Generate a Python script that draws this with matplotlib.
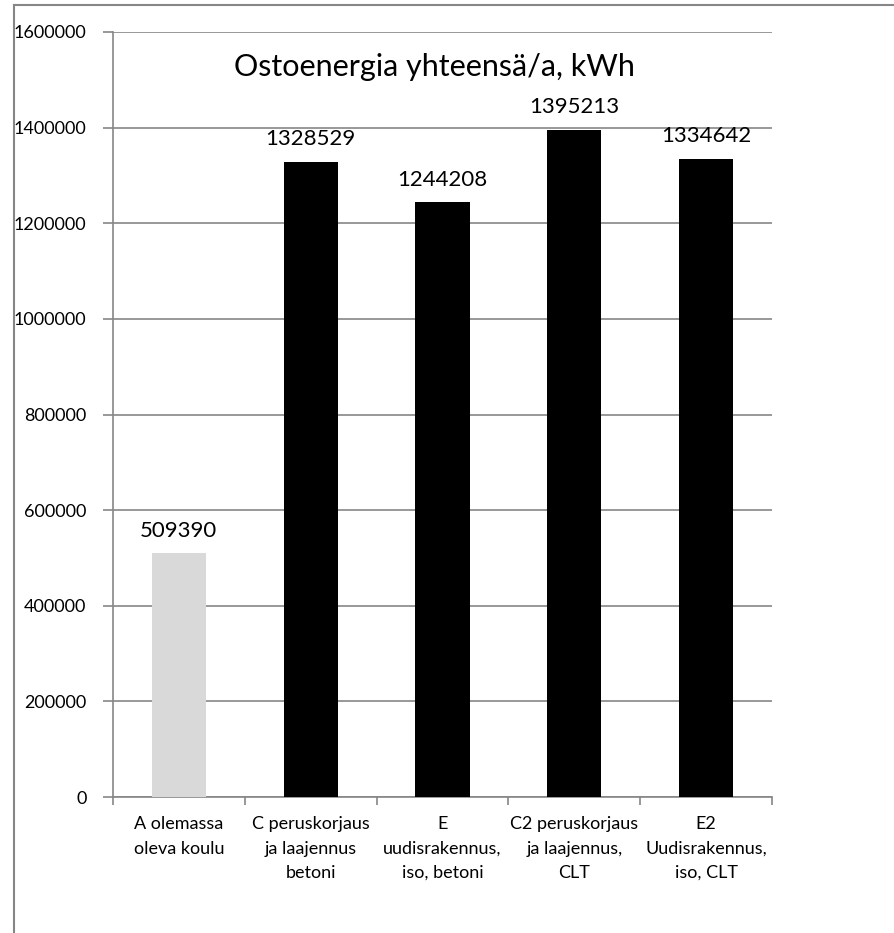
import matplotlib.pyplot as plt
from matplotlib.lines import Line2D

# Purchased energy per alternative, kWh/a
categories = [
    "A olemassa\noleva koulu",
    "C peruskorjaus\nja laajennus\nbetoni",
    "E\nuudisrakennus,\niso, betoni",
    "C2 peruskorjaus\nja laajennus,\nCLT",
    "E2\nUudisrakennus,\niso, CLT",
]
values = [509390, 1328529, 1244208, 1395213, 1334642]
bar_colors = ["#d9d9d9", "#000000", "#000000", "#000000", "#000000"]
yticks = [0, 200000, 400000, 600000, 800000, 1000000, 1200000, 1400000, 1600000]

title = "Ostoenergia yhteensä/a, kWh"

plt.rcParams['font.family'] = ['Lato', 'DejaVu Sans']
grey = '#868686'

fig = plt.figure(figsize=(8.94, 9.33), dpi=100, facecolor='white')
ax = fig.add_axes([113 / 894, 1 - 797 / 933, (772 - 113) / 894, (797 - 32) / 933])

xs = list(range(len(categories)))
ax.bar(xs, values, width=0.41, color=bar_colors, zorder=3)

# value labels above the bars
for x, v in zip(xs, values):
    ax.annotate(str(v), (x, v), xytext=(0, 9), textcoords='offset points',
                ha='center', va='bottom', fontsize=16, color='black')

ax.set_xlim(-0.5, len(categories) - 0.5)
ax.set_ylim(0, 1600000)
ax.set_yticks(yticks)
ax.set_yticklabels([str(t) for t in yticks], fontsize=13)
ax.yaxis.grid(True, color=grey, linewidth=1.2, zorder=0)

# category ticks sit on the boundaries, labels in the middle
ax.set_xticks([i - 0.5 for i in range(len(categories) + 1)])
ax.set_xticklabels([])
ax.set_xticks(xs, minor=True)
ax.set_xticklabels(categories, minor=True, fontsize=13, linespacing=1.62)
ax.tick_params(axis='x', which='minor', length=0, pad=14)
ax.tick_params(axis='x', which='major', length=6, width=1.2, color=grey)
ax.tick_params(axis='y', length=7, width=1.2, color=grey, pad=12)

for side in ('top', 'right'):
    ax.spines[side].set_visible(False)
for side in ('left', 'bottom'):
    ax.spines[side].set_color(grey)
    ax.spines[side].set_linewidth(1.2)

ax.text(0.488, 0.954, title, transform=ax.transAxes, ha='center', va='center',
        fontsize=22, color='black')

# outer chart frame
fig.add_artist(Line2D([13.5 / 894, 13.5 / 894], [0, 1 - 4.5 / 933],
                      transform=fig.transFigure, color=grey, linewidth=1.5))
fig.add_artist(Line2D([13.5 / 894, 1], [1 - 4.5 / 933, 1 - 4.5 / 933],
                      transform=fig.transFigure, color=grey, linewidth=1.5))

fig.savefig('out.png', dpi=100, facecolor='white')
